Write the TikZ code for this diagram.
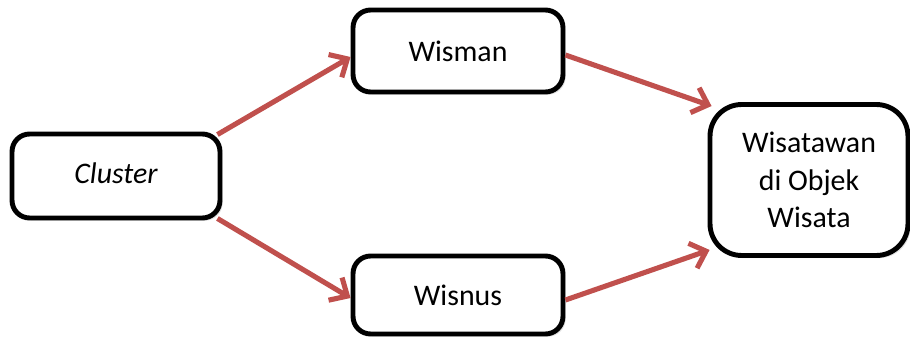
\documentclass[tikz,border=0pt]{standalone}
\usepackage{fontspec}
\setmainfont{Carlito}
\usepackage{xcolor}
\usepackage{tikz}
\usetikzlibrary{arrows.meta,shadows}

\definecolor{arrowred}{HTML}{C0504D}

\begin{document}
\begin{tikzpicture}[x=0.02cm, y=-0.02cm, thick, color=black,
	box/.style={draw, line width=2.8pt, rounded corners=10pt, fill=white, align=center, inner sep=0pt,
		font=\fontsize{17}{21.5}\selectfont,
		drop shadow={shadow xshift=1.5pt, shadow yshift=-1.5pt, opacity=0.25}},
	link/.style={draw=arrowred, line width=2.9pt, -{Straight Barb[length=8pt,width=15pt]},
		preaction={draw=black!15, transform canvas={shift={(1.5pt,-2pt)}}}}]
	\useasboundingbox (0,0) rectangle (910,338);
	
	\node[box, minimum width=4.16cm, minimum height=1.68cm] (cluster) at (116,176) {\itshape Cluster\vphantom{g}};
	\node[box, minimum width=4.2cm, minimum height=1.64cm] (wisman) at (458,51) {Wisman};
	\node[box, minimum width=4.2cm, minimum height=1.56cm] (wisnus) at (458,295) {Wisnus};
	\node[box, rounded corners=18pt, minimum width=3.96cm, minimum height=3.02cm] (wisatawan) at (809,180)
		{Wisatawan\\di Objek\\Wisata};
	
	\begin{scope}[link]
		\draw ([shift={(-5,3)}]cluster.north east) -- ([shift={(0,6)}]wisman.west);
		\draw ([shift={(-5,-2)}]cluster.south east) -- ([shift={(0,3)}]wisnus.west);
		\draw ([shift={(0,4)}]wisman.east) -- ([shift={(4,4)}]wisatawan.north west);
		\draw ([shift={(0,5)}]wisnus.east) -- ([shift={(2,-8)}]wisatawan.south west);
	\end{scope}
\end{tikzpicture}
\end{document}
